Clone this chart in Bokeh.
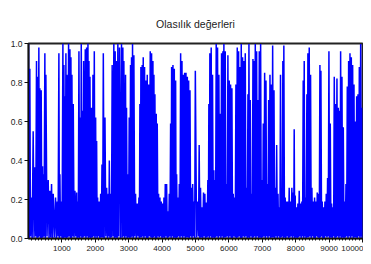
from bokeh.plotting import figure
from bokeh.models import FixedTicker, Range1d, PrintfTickFormatter
from bokeh.embed import file_html
from bokeh.resources import INLINE

title_text = "Olasılık değerleri"

# sample index (x) and local peak values
peak_x = [
    0, 40, 80, 140, 190, 240, 270, 310, 340, 380,
    420, 440, 490, 520, 590, 640, 690, 740, 810, 860,
    910, 940, 980, 1030, 1060, 1090, 1120, 1150, 1200, 1240,
    1270, 1300, 1340, 1390, 1440, 1470, 1510, 1550, 1580, 1620,
    1650, 1700, 1740, 1780, 1810, 1840, 1890, 1930, 1970, 2010,
    2040, 2070, 2110, 2160, 2200, 2240, 2290, 2340, 2390, 2420,
    2460,
    2505, 2555, 2595, 2635, 2675, 2725, 2785, 2825, 2855, 2905,
    2935, 2975, 3015, 3055, 3085, 3115, 3155, 3205, 3255, 3305,
    3335, 3365, 3405, 3435, 3475, 3515, 3555, 3595, 3645, 3685,
    3725, 3755, 3785, 3825, 3855, 3895, 3935, 3975, 4015, 4055,
    4095, 4135, 4175, 4215, 4255, 4285, 4325, 4365, 4405, 4435,
    4475, 4515, 4555, 4595, 4635, 4675, 4715, 4755, 4795, 4835,
    4875, 4915, 4955, 4995,
    5070, 5110, 5150, 5190, 5240, 5280, 5320, 5370, 5400, 5430,
    5470, 5510, 5550, 5580, 5620, 5660, 5700, 5740, 5780, 5820,
    5850, 5890, 5930, 5970, 6010, 6050, 6090, 6130, 6170, 6210,
    6250, 6290, 6330, 6370, 6410, 6450, 6490, 6530, 6570, 6600,
    6640, 6680, 6720, 6750, 6790, 6830, 6870, 6910, 6950, 6990,
    7030, 7070, 7110, 7150, 7190, 7230, 7270, 7310, 7350, 7390,
    7430, 7470, 7510,
    7545, 7585, 7615, 7645, 7685, 7725, 7765, 7805, 7845, 7885,
    7925, 7955, 7985, 8025, 8065, 8105, 8145, 8185, 8225, 8255,
    8285, 8335, 8365, 8405, 8445, 8485, 8525, 8565, 8605, 8645,
    8685, 8725, 8755, 8795, 8835, 8875, 8915, 8955, 8995, 9035,
    9075, 9115, 9155, 9195, 9235, 9275, 9315, 9345, 9385, 9425,
    9465, 9505, 9545, 9585, 9625, 9665, 9705, 9745, 9785, 9825,
    9865, 9905, 9945, 9985,
]

peak_v = [
    1.0, 0.87, 0.21, 0.55, 0.365, 0.91, 0.83, 0.98, 0.77, 0.76,
    0.37, 0.33, 0.95, 0.84, 0.30, 0.245, 0.28, 0.23, 0.21, 0.19,
    0.95, 0.33, 0.19, 1.0, 0.89, 0.73, 0.95, 0.84, 1.0, 0.97,
    0.93, 0.84, 0.69, 0.245, 0.236, 0.19, 0.96, 0.62, 0.997, 0.655,
    0.91, 0.97, 0.98, 1.0, 0.91, 0.83, 0.67, 0.84, 0.96, 0.62,
    0.50, 0.21, 0.19, 0.23, 0.38, 0.95, 0.62, 0.26, 0.23, 0.40,
    0.23,
    0.89, 0.997, 0.96, 0.91, 0.997, 0.98, 0.997, 0.98, 0.91, 0.84,
    0.67, 0.33, 0.62, 0.89, 0.93, 0.997, 0.94, 0.23, 0.18, 0.21,
    0.69, 0.88, 0.89, 0.93, 0.88, 0.81, 0.84, 0.79, 0.96, 0.95,
    0.91, 0.84, 0.74, 0.64, 0.59, 0.23, 0.21, 0.19, 0.18, 0.21,
    0.28, 0.28, 0.14, 0.23, 0.59, 0.88, 0.89, 0.87, 0.81, 0.33,
    0.21, 0.28, 0.95, 0.91, 0.84, 0.85, 0.85, 0.83, 0.81, 0.76,
    0.26, 0.28, 0.19, 0.86,
    0.19, 0.48, 0.26, 0.16, 0.236, 0.23, 0.185, 0.30, 0.69, 0.95,
    0.98, 0.84, 0.35, 0.30, 0.997, 0.98, 0.84, 0.64, 0.95, 0.96,
    0.997, 0.96, 0.28, 0.94, 0.81, 0.79, 0.77, 0.23, 0.21, 0.79,
    0.98, 0.96, 0.88, 0.997, 0.93, 0.91, 0.95, 0.26, 0.74, 0.997,
    0.71, 0.23, 0.92, 0.91, 0.997, 0.96, 0.71, 0.96, 0.997, 0.30,
    0.59, 0.85, 0.81, 0.28, 0.71, 0.84, 0.79, 0.99, 0.76, 0.26,
    0.48, 0.23, 0.16,
    0.84, 0.23, 0.91, 0.99, 0.21, 0.19, 0.19, 0.26, 0.19, 0.26,
    0.236, 0.56, 0.22, 0.16, 0.18, 0.245, 0.18, 0.19, 0.81, 0.91,
    0.21, 0.74, 0.95, 0.98, 0.84, 0.26, 0.19, 0.21, 0.19, 0.236,
    0.23, 0.89, 0.86, 0.19, 0.16, 0.19, 0.23, 0.31, 0.96, 0.59,
    0.18, 0.16, 0.83, 0.69, 0.82, 0.67, 0.655, 0.96, 0.83, 0.57,
    0.19, 0.28, 0.78, 0.91, 0.95, 0.93, 0.89, 0.79, 0.60, 0.73,
    0.74, 0.88, 0.997, 0.67,
]

# local minima between consecutive peaks (the series keeps dropping to ~0)
trough_v = [
    0.00, 0.01, 0.00, 0.005, 0.01, 0.00, 0.005, 0.01, 0.00, 0.00,
    0.005, 0.01, 0.00, 0.01, 0.00, 0.005, 0.00, 0.005, 0.00, 0.01,
    0.00, 0.01, 0.00, 0.00, 0.005, 0.005, 0.00, 0.005, 0.01, 0.00,
    0.00, 0.01, 0.005, 0.01, 0.00, 0.005, 0.00, 0.01, 0.00, 0.005,
    0.01, 0.00, 0.01, 0.00, 0.005, 0.00, 0.005, 0.01, 0.00, 0.01,
    0.00, 0.01, 0.00, 0.005, 0.005, 0.00, 0.01, 0.00, 0.01, 0.00,
    0.005,
    0.01, 0.00, 0.005, 0.00, 0.01, 0.00, 0.005, 0.01, 0.00, 0.01,
    0.00, 0.005, 0.00, 0.005, 0.01, 0.00, 0.01, 0.00, 0.01, 0.00,
    0.005, 0.005, 0.01, 0.00, 0.01, 0.00, 0.00, 0.01, 0.005, 0.00,
    0.005, 0.01, 0.00, 0.00, 0.01, 0.005, 0.01, 0.00, 0.005, 0.00,
    0.01, 0.00, 0.005, 0.01, 0.00, 0.01, 0.00, 0.005, 0.00, 0.005,
    0.01, 0.00, 0.01, 0.00, 0.01, 0.00, 0.005, 0.005, 0.00, 0.01,
    0.00, 0.01, 0.00, 0.005,
    0.01, 0.00, 0.005, 0.00, 0.01, 0.00, 0.005, 0.01, 0.00, 0.01,
    0.00, 0.005, 0.00, 0.005, 0.01, 0.00, 0.01, 0.00, 0.01, 0.00,
    0.005, 0.005, 0.01, 0.00, 0.01, 0.00, 0.00, 0.01, 0.005, 0.00,
    0.005, 0.01, 0.00, 0.00, 0.01, 0.005, 0.01, 0.00, 0.005, 0.00,
    0.01, 0.00, 0.005, 0.01, 0.00, 0.01, 0.00, 0.005, 0.00, 0.005,
    0.01, 0.00, 0.01, 0.00, 0.01, 0.00, 0.005, 0.005, 0.00, 0.01,
    0.00, 0.01, 0.00,
    0.005, 0.01, 0.00, 0.005, 0.00, 0.01, 0.00, 0.005, 0.01, 0.00,
    0.01, 0.00, 0.005, 0.00, 0.005, 0.01, 0.00, 0.01, 0.00, 0.01,
    0.00, 0.005, 0.005, 0.01, 0.00, 0.01, 0.00, 0.00, 0.01, 0.005,
    0.00, 0.005, 0.01, 0.00, 0.00, 0.01, 0.005, 0.01, 0.00, 0.005,
    0.00, 0.01, 0.00, 0.005, 0.01, 0.00, 0.01, 0.00, 0.005, 0.00,
    0.005, 0.01, 0.00, 0.01, 0.00, 0.01, 0.00, 0.005, 0.005, 0.00,
    0.01, 0.00, 0.01, 0.00,
]

x_ticks = [1000, 2000, 3000, 4000, 5000, 6000, 7000, 8000, 9000, 10000]
y_ticks = [0.0, 0.2, 0.4, 0.6, 0.8, 1.0]
x_minor = list(range(100, 10000, 100))

# interleave peaks and troughs into one polyline
xs, ys = [], []
n = min(len(peak_x), len(peak_v), len(trough_v))
for i in range(n):
    xs.append(peak_x[i])
    ys.append(peak_v[i])
    nxt = peak_x[i + 1] if i + 1 < len(peak_x) else 10000
    xs.append((peak_x[i] + nxt) / 2)
    ys.append(trough_v[i])

FONT = "Liberation Sans"

p = figure(width=363, height=256, output_backend="svg", toolbar_location=None,
           x_range=Range1d(0, 10000), y_range=Range1d(0, 1.0),
           min_border_left=28, min_border_right=1, min_border_top=43,
           min_border_bottom=18)

p.title.text = title_text
p.title.align = "center"
p.title.text_font = FONT
p.title.text_font_size = "10.5px"
p.title.text_font_style = "normal"
p.title.text_color = "#222222"
p.title.standoff = 27

p.line(xs, ys, line_color="#0000FF", line_width=1.5)

p.grid.visible = False
p.outline_line_color = "#222222"
p.outline_line_width = 2

for ax in (p.xaxis[0], p.yaxis[0]):
    ax.axis_line_color = "#111111"
    ax.axis_line_width = 1.5
    ax.major_tick_line_color = "#111111"
    ax.minor_tick_line_color = "#111111"
    ax.major_label_text_font = FONT
    ax.major_label_text_color = "#222222"
    ax.major_tick_in = 0
    ax.minor_tick_in = 0

p.xaxis[0].ticker = FixedTicker(ticks=x_ticks, minor_ticks=x_minor)
p.xaxis[0].major_label_text_font_size = "8px"
p.xaxis[0].major_tick_out = 4
p.xaxis[0].minor_tick_out = 2
p.xaxis[0].major_label_standoff = 3

p.yaxis[0].ticker = FixedTicker(ticks=y_ticks, minor_ticks=[])
p.yaxis[0].formatter = PrintfTickFormatter(format="%.1f")
p.yaxis[0].major_label_text_font_size = "8.5px"
p.yaxis[0].major_tick_out = 4
p.yaxis[0].minor_tick_out = 0
p.yaxis[0].major_label_standoff = 2

open("out.html", "w").write(file_html(p, INLINE))
